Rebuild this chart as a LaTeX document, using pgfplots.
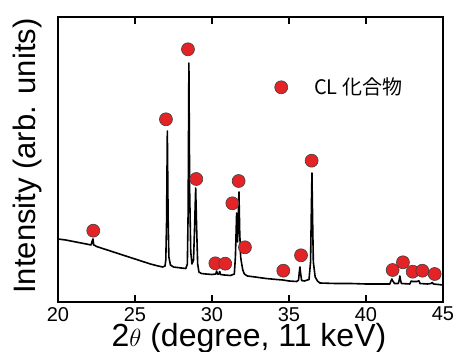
\documentclass[border=0pt]{standalone}
\usepackage{fontspec}
\setmainfont{Liberation Sans}
\newfontfamily\cjk{Noto Sans CJK JP}
\usepackage{pgfplots}
\pgfplotsset{compat=1.18}
\definecolor{mred}{RGB}{227,35,38}
\begin{document}
\begin{tikzpicture}
\useasboundingbox (-58pt,-50pt) rectangle (397pt,302pt);
\begin{axis}[
  scale only axis, width=385pt, height=285pt,
  xmin=20, xmax=45, ymin=0, ymax=285,
  xtick={20,25,30,35,40,45}, ytick=\empty,
  tick align=inside, major tick length=7pt,
  every tick/.style={black, line width=1.4pt},
  axis line style={line width=1.6pt},
  /pgf/number format/assume math mode=true,
  ticklabel style={font=\fontsize{20}{24}\selectfont},
  xticklabel style={inner sep=0pt, yshift=-5pt},
  xlabel={2$\theta$ (degree, 11 keV)},
  ylabel={Intensity (arb. units)},
  xlabel style={font=\fontsize{32}{36}\selectfont, at={(axis description cs:0.496,0)}, anchor=base, inner sep=0pt, yshift=-44.5pt},
  ylabel style={font=\fontsize{31}{36}\selectfont, at={(axis description cs:-0.0416,0.512)}, anchor=south, inner sep=0pt},
  legend style={draw=none, fill=none, at={(axis cs:34.04,214.7)}, anchor=west, inner sep=0pt,
    nodes={inner sep=0pt, font=\cjk\fontsize{20}{24}\selectfont},
    /tikz/every odd column/.append style={column sep=26pt}},
  legend image code/.code={\draw[fill=mred, draw=black!75, line width=0.6pt] (6.5pt,0pt) circle (6.5pt);},
]
\addplot[black, line width=1.6pt, line join=round, forget plot] coordinates {
(20,63) (20.5,62) (21,60.5) (21.5,59) (22,57.5) (22.15,57) (22.22,61) (22.27,63) (22.32,57) (22.4,56.5)
(22.5,55.5) (23,53) (23.5,50.5) (24,48) (24.5,45.5) (25,43) (25.5,40.5) (26,38) (26.5,36) (26.8,35)
(26.95,36) (27.0,42) (27.05,80) (27.1,171) (27.15,85) (27.2,45) (27.3,37) (27.5,35) (28,34) (28.3,33.5)
(28.4,38) (28.45,90) (28.5,239) (28.55,110) (28.62,50) (28.7,38) (28.8,42) (28.87,75) (28.94,114) (29.0,75)
(29.07,38) (29.15,30) (29.3,28.5) (29.6,28) (30.0,27.5) (30.25,28) (30.3,31) (30.35,28) (30.45,28) (30.5,30.5)
(30.55,27.5) (30.8,27) (31.2,26.5) (31.45,28) (31.52,45) (31.6,89) (31.66,60) (31.72,95) (31.75,110) (31.8,70)
(31.86,45) (31.93,38) (32.0,32) (32.1,28) (32.3,26) (32.8,25) (33.5,23.5) (34.2,22.5) (34.6,22) (35.0,21)
(35.5,20.5) (35.62,22) (35.67,30) (35.71,35) (35.76,28) (35.82,21.5) (36.0,21) (36.3,22.5) (36.4,40) (36.45,90)
(36.49,129) (36.53,85) (36.58,40) (36.7,25) (36.85,21) (37.0,19) (38,18.5) (39,18.5) (40,18) (41,18)
(41.55,18) (41.62,21) (41.68,23) (41.74,21) (41.85,18.5) (42.1,18.5) (42.16,22) (42.2,26) (42.24,22) (42.3,18.5)
(42.85,18) (42.9,20) (42.94,21) (43.0,20.5) (43.3,20.5) (43.4,21) (43.45,21) (43.5,18.5) (44.0,18) (44.22,18.5)
(44.3,19.5) (44.38,18) (45,17)
};
\addplot[only marks, mark=*, mark size=6.5pt, mark options={fill=mred, draw=black!75, line width=0.6pt}] coordinates {
(22.29,71.3) (27.01,182.7) (28.44,252.7) (28.98,123) (31.73,121) (31.32,98.7) (32.14,54.7)
(30.22,38.7) (30.86,38.3) (34.63,31.3) (35.78,46.7) (36.47,141.3) (41.73,32) (42.40,39.7)
(43.03,30.3) (43.66,31.3) (44.46,28)
};
\addlegendentry{CL 化合物}
\end{axis}
\end{tikzpicture}
\end{document}
